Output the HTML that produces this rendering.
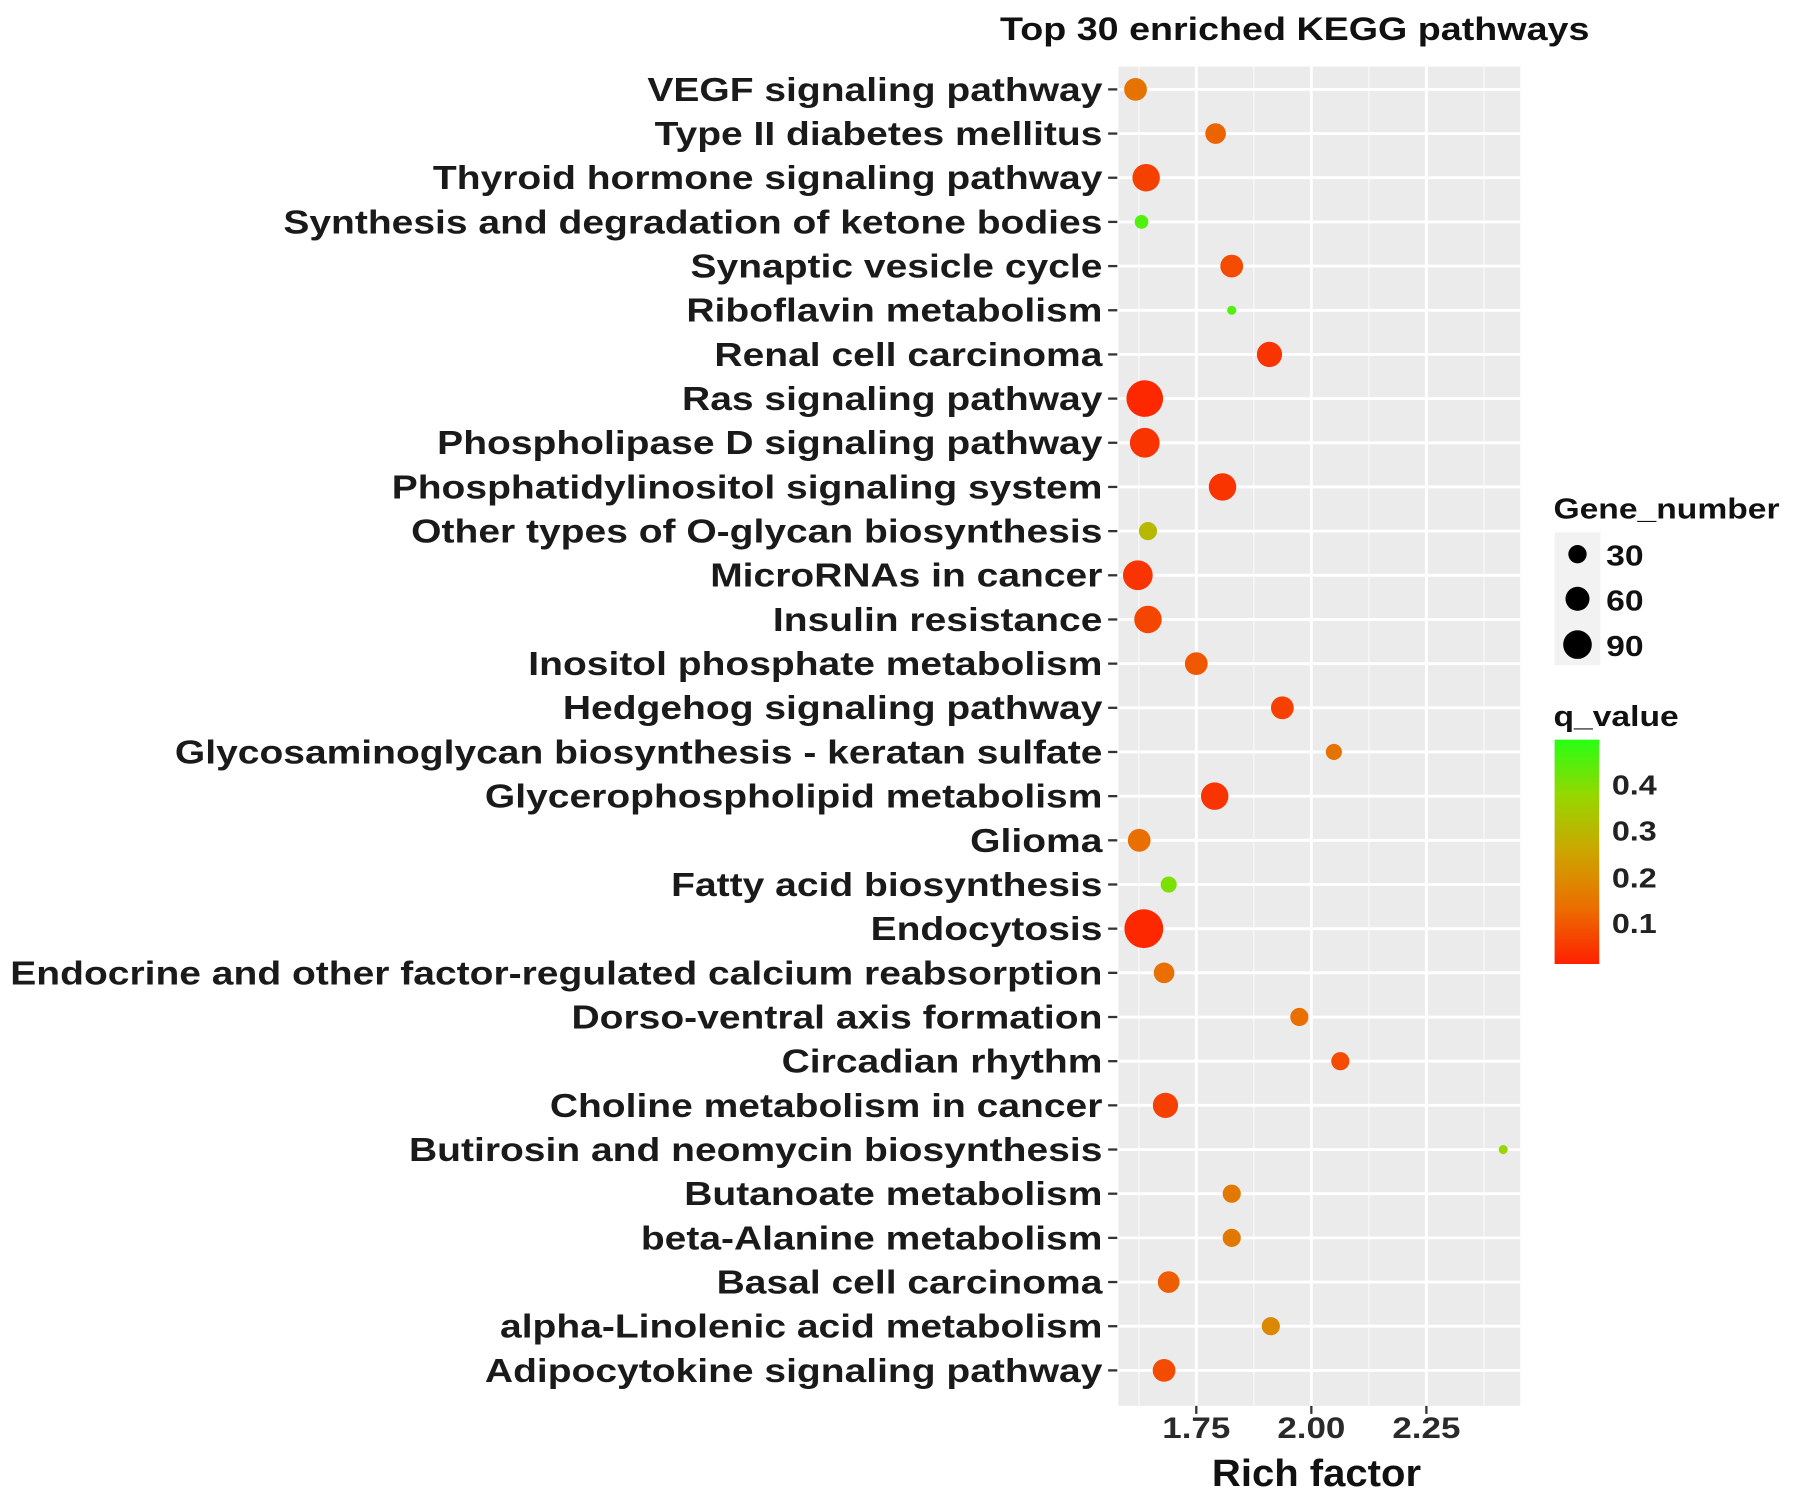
<!DOCTYPE html>
<html><head><meta charset="utf-8"><style>
html,body{margin:0;padding:0;background:#fff}
svg{display:block}
text{font-family:"Liberation Sans",Arial,sans-serif;font-weight:bold}
</style></head><body>
<svg id="chart" width="1795" height="1501" viewBox="0 0 1568 1311" xmlns="http://www.w3.org/2000/svg">
<defs><linearGradient id="qgrad" x1="0" y1="1" x2="0" y2="0">
<stop offset="0" stop-color="#ff2000"/><stop offset="0.25" stop-color="#eb6e00"/><stop offset="0.5" stop-color="#cda500"/><stop offset="0.75" stop-color="#96d700"/><stop offset="1" stop-color="#28ff14"/></linearGradient></defs>
<text x="1131" y="35" font-size="28" text-anchor="middle" fill="#111">Top 30 enriched KEGG pathways</text>
<rect x="977" y="58" width="351" height="1170" fill="#ebebeb"/>
<g id="grid"></g><g id="yaxis"></g><g id="xaxis"></g><g id="points"></g>
<text id="xtitle" x="1150" y="1298" font-size="33" text-anchor="middle" fill="#111">Rich factor</text>
<g>
<text x="1357" y="453" font-size="25" fill="#111">Gene_number</text>
<rect x="1358" y="465" width="40" height="116" fill="#f2f2f2"/>
<circle cx="1378" cy="484" r="8" fill="#000"/><text x="1403" y="494" font-size="25" fill="#111">30</text>
<circle cx="1378" cy="523" r="10.5" fill="#000"/><text x="1403" y="533" font-size="25" fill="#111">60</text>
<circle cx="1378" cy="563" r="12.5" fill="#000"/><text x="1403" y="573" font-size="25" fill="#111">90</text>
</g>
<g>
<text x="1357" y="634" font-size="25" fill="#111">q_value</text>
<rect x="1358" y="646" width="39" height="196" fill="url(#qgrad)"/>
<text x="1408" y="694" font-size="24" fill="#222">0.4</text>
<text x="1408" y="734" font-size="24" fill="#222">0.3</text>
<text x="1408" y="775" font-size="24" fill="#222">0.2</text>
<text x="1408" y="815" font-size="24" fill="#222">0.1</text>
</g>
</svg>
<script>
const categories=["VEGF signaling pathway","Type II diabetes mellitus","Thyroid hormone signaling pathway","Synthesis and degradation of ketone bodies","Synaptic vesicle cycle","Riboflavin metabolism","Renal cell carcinoma","Ras signaling pathway","Phospholipase D signaling pathway","Phosphatidylinositol signaling system","Other types of O-glycan biosynthesis","MicroRNAs in cancer","Insulin resistance","Inositol phosphate metabolism","Hedgehog signaling pathway","Glycosaminoglycan biosynthesis - keratan sulfate","Glycerophospholipid metabolism","Glioma","Fatty acid biosynthesis","Endocytosis","Endocrine and other factor-regulated calcium reabsorption","Dorso-ventral axis formation","Circadian rhythm","Choline metabolism in cancer","Butirosin and neomycin biosynthesis","Butanoate metabolism","beta-Alanine metabolism","Basal cell carcinoma","alpha-Linolenic acid metabolism","Adipocytokine signaling pathway"];
const richFactor=[1.618,1.792,1.641,1.631,1.827,1.827,1.909,1.638,1.638,1.807,1.645,1.623,1.645,1.75,1.937,2.049,1.79,1.626,1.69,1.636,1.68,1.974,2.063,1.683,2.417,1.827,1.827,1.69,1.912,1.68];
const geneNumber=[44,36,64,16,44,7,54,114,75,64,28,75,64,44,44,22,64,44,22,128,36,28,28,54,7,28,28,40,28,44];
const qValue=[0.15,0.12,0.06,0.45,0.08,0.45,0.04,0.02,0.04,0.04,0.3,0.04,0.07,0.1,0.06,0.15,0.04,0.14,0.4,0.02,0.14,0.14,0.08,0.06,0.37,0.16,0.16,0.11,0.19,0.08];
const xTicks=[1.75,2.0,2.25];
const xTickLabels=["1.75","2.00","2.25"];
const NS="http://www.w3.org/2000/svg";
function xScale(v){return 1045+(v-1.75)*402;}
function yScale(i){return 78+i*(1197-78)/(categories.length-1);}
function rScale(n){return 1.5*Math.sqrt(n);}
function qColor(q){
  const st=[[0,[255,32,0]],[0.25,[235,105,0]],[0.5,[205,165,0]],[0.75,[150,215,0]],[1,[40,255,20]]];
  let t=Math.max(0,Math.min(1,(q-0.007)/(0.494-0.007)));
  for(let k=0;k<st.length-1;k++){if(t<=st[k+1][0]){const f=(t-st[k][0])/(st[k+1][0]-st[k][0]);const a=st[k][1],b=st[k+1][1];return`rgb(${a.map((c,j)=>Math.round(c+(b[j]-c)*f)).join(',')})`;}}
  return "rgb(40,255,20)";
}
function mk(tag,attrs,parent){const e=document.createElementNS(NS,tag);for(const k in attrs)e.setAttribute(k,attrs[k]);parent.appendChild(e);return e;}
const grid=document.getElementById('grid'),ya=document.getElementById('yaxis'),xa=document.getElementById('xaxis'),pts=document.getElementById('points');
[1.625,1.875,2.125,2.375].forEach(v=>{const l=mk('line',{x1:xScale(v),x2:xScale(v),y1:58,y2:1228,stroke:'#f7f7f7','stroke-width':1.2},grid);

});
xTicks.forEach((v,i)=>{const l=mk('line',{x1:xScale(v),x2:xScale(v),y1:58,y2:1228,stroke:'#fff','stroke-width':2.5},grid);


const t=mk('line',{x1:xScale(v),x2:xScale(v),y1:1228,y2:1235,stroke:'#333','stroke-width':2},xa);


const tx=mk('text',{x:xScale(v),y:1256,'font-size':26,'text-anchor':'middle',fill:'#2a2a2a'},xa);tx.textContent=xTickLabels[i];

});
categories.forEach((c,i)=>{const y=yScale(i);
const g=mk('line',{x1:977,x2:1328,y1:y,y2:y,stroke:'#fff','stroke-width':2.5},grid);


const t=mk('line',{x1:968,x2:976,y1:y,y2:y,stroke:'#333','stroke-width':2},ya);


const tx=mk('text',{x:963,y:y+10,'font-size':29,'text-anchor':'end',fill:'#1a1a1a'},ya);tx.textContent=c;


const p=mk('circle',{cx:xScale(richFactor[i]),cy:y,r:rScale(geneNumber[i]),fill:qColor(qValue[i])},pts);

});
document.querySelectorAll('text').forEach(t=>{const w=t.getComputedTextLength();const f=t.id==='xtitle'?1.06:1.175;t.setAttribute('textLength',(w*f).toFixed(1));t.setAttribute('lengthAdjust','spacingAndGlyphs');});
</script>
</body></html>
